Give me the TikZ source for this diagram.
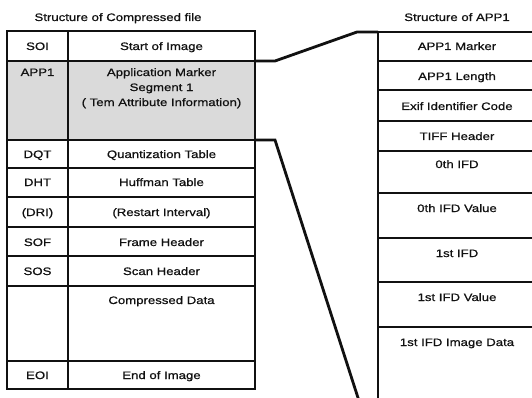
\documentclass[tikz,border=0pt]{standalone}
\usepackage{fontspec}
\setmainfont[FakeStretch=1.22,FakeBold=0.8]{Liberation Sans}
\usetikzlibrary{positioning,calc}
\definecolor{jink}{HTML}{111111}
\definecolor{jshade}{HTML}{DADADA}
\tikzset{
  cell/.style={draw=jink,line width=1.3pt},
  txt/.style={font=\fontsize{10.8}{15}\selectfont,text=jink,inner sep=0pt,anchor=base},
  ttl/.style={font=\fontsize{10.8}{12}\selectfont,text=jink,inner sep=0pt,anchor=base},
  link/.style={draw=jink,line width=2.8pt,line join=miter},
}

\begin{document}
\begin{tikzpicture}[x=1pt,y=-1pt]
  \useasboundingbox (0,0) rectangle (532,398);
  % compressed file: one row per marker segment
  \node[ttl] (ltitle) at (118,21) {Structure of Compressed file};
  \fill[jshade] (7,61) rectangle (255,140);
  \foreach \t/\b/\y/\m/\d [count=\k] in {31/61/50/SOI/Start of Image, 61/140/76/APP1/{},
      140/168/158/DQT/Quantization Table, 168/197/186/DHT/Huffman Table,
      197/227/216/(DRI)/(Restart Interval), 227/256/246/SOF/Frame Header,
      256/286/275/SOS/Scan Header, 286/361/304/{}/Compressed Data, 361/389/379/EOI/End of Image} {
    \draw[cell] (7,\t) rectangle (255,\b);
    \draw[cell] (68,\t) -- (68,\b);
    \node[txt] (m\k) at (37.5,\y) {\m};
    \node[txt] (d\k) at (161.5,\y) {\d};
  }
  \node[txt,anchor=north,align=center] (app1txt) at (161.5,68) {Application Marker\\Segment 1\\( Tem Attribute Information)};
  % APP1 segment
  \node[ttl] (rtitle) at (457,21) {Structure of APP1};
  \foreach \t/\b/\y/\d [count=\k] in {32/61/50/APP1 Marker, 61/90/80/APP1 Length,
      90/121/110/Exif Identifier Code, 121/151/140/TIFF Header, 151/193/168/0th IFD,
      193/238/212/0th IFD Value, 238/282/257/1st IFD, 282/327/301/1st IFD Value,
      327/404/346/1st IFD Image Data} {
    \draw[cell] (378,\t) rectangle (537,\b);
    \node[txt] (r\k) at (457,\y) {\d};
  }
  % zoom lines from the APP1 row
  \coordinate (app1ne) at (255,61);
  \coordinate (app1se) at (255,140);
  \coordinate (rtop) at (378,32);
  \coordinate (rbot) at (378,404);
  \draw[link] (app1ne) -- ++(20,0) -- (357,32) -- (rtop);
  \draw[link] (app1se) -- ++(20,0) -- (360,404) -- (rbot);
\end{tikzpicture}
\end{document}
